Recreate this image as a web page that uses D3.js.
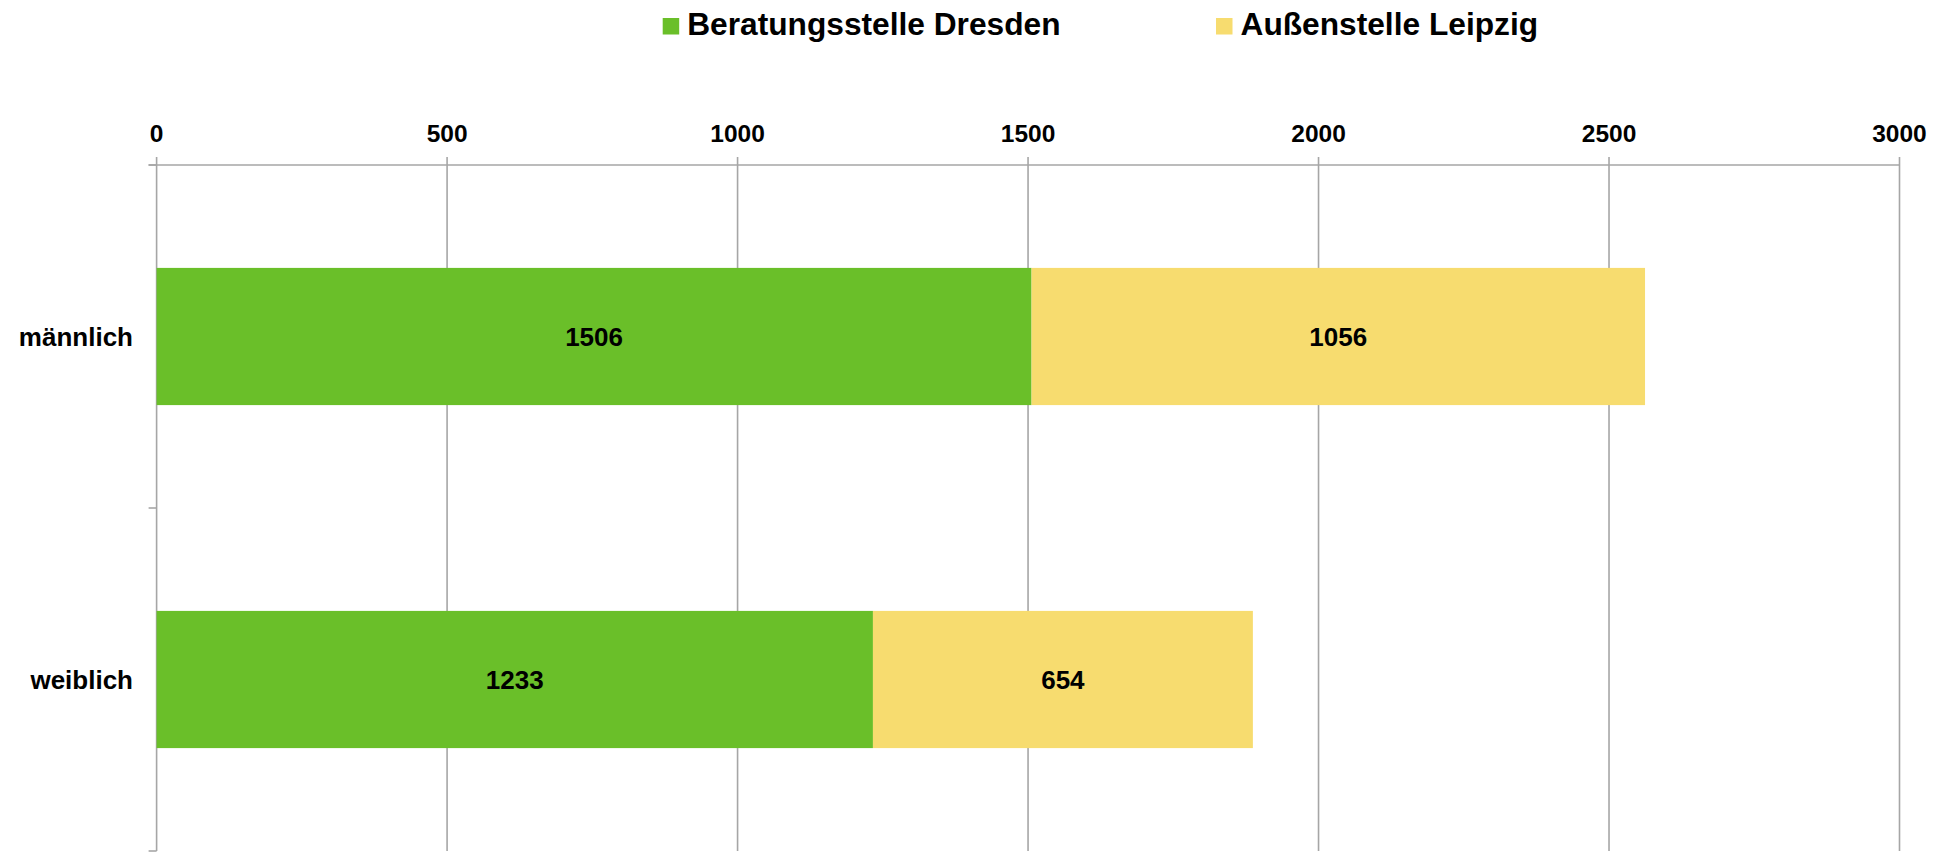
<!DOCTYPE html>
<html>
<head>
<meta charset="utf-8">
<script src="https://cdn.jsdelivr.net/npm/d3@7"></script>
<style>
  body { margin: 0; background: #fff; }
  text { font-family: "Liberation Sans", Arial, sans-serif; font-weight: bold; fill: #000; }
</style>
</head>
<body>
<div id="chart"></div>
<script>
const CATEGORIES = ["männlich", "weiblich"];
const SERIES = ["Beratungsstelle Dresden", "Außenstelle Leipzig"];
const DRESDEN = [1506, 1233];
const LEIPZIG = [1056, 654];
const X_TICKS = [0, 500, 1000, 1500, 2000, 2500, 3000];
const COLORS = ["#6abf29", "#f7dc6f"];

const FRAME_WIDTH = 1934;
const FRAME_HEIGHT = 858;
const MARGINS = {left: 156.6, right: 34.5, top: 165, bottom: 7};

const svg = d3.select("#chart")
  .append("svg")
    .attr("width", FRAME_WIDTH)
    .attr("height", FRAME_HEIGHT);

const x = d3.scaleLinear()
  .domain([0, 3000])
  .range([MARGINS.left, FRAME_WIDTH - MARGINS.right]);

const y = d3.scaleBand()
  .domain(CATEGORIES)
  .range([MARGINS.top, FRAME_HEIGHT - MARGINS.bottom])
  .padding(0);

const barH = y.bandwidth() * 0.4;
const gridColor = "#a6a6a6";

// vertical gridlines + top ticks
svg.append("g")
  .selectAll("line")
  .data(X_TICKS)
  .enter()
  .append("line")
    .attr("x1", d => x(d))
    .attr("x2", d => x(d))
    .attr("y1", MARGINS.top - 8)
    .attr("y2", FRAME_HEIGHT - MARGINS.bottom)
    .attr("stroke", gridColor)
    .attr("stroke-width", 1.6);

// top axis line
svg.append("line")
  .attr("x1", x(0) - 8)
  .attr("x2", x(3000))
  .attr("y1", MARGINS.top)
  .attr("y2", MARGINS.top)
  .attr("stroke", gridColor)
  .attr("stroke-width", 1.6);

// y axis ticks at band boundaries
const bounds = [MARGINS.top].concat(CATEGORIES.map(c => y(c) + y.bandwidth()));
svg.append("g")
  .selectAll("line")
  .data(bounds)
  .enter()
  .append("line")
    .attr("x1", x(0) - 8)
    .attr("x2", x(0))
    .attr("y1", d => d)
    .attr("y2", d => d)
    .attr("stroke", gridColor)
    .attr("stroke-width", 1.6);

// x tick labels
svg.append("g")
  .selectAll("text")
  .data(X_TICKS)
  .enter()
  .append("text")
    .attr("x", d => x(d))
    .attr("y", 142)
    .attr("text-anchor", "middle")
    .style("font-size", "24.5px")
    .text(d => d);

// category labels
svg.append("g")
  .selectAll("text")
  .data(CATEGORIES)
  .enter()
  .append("text")
    .attr("x", 133)
    .attr("y", d => y(d) + y.bandwidth() / 2)
    .attr("dy", "0.35em")
    .attr("text-anchor", "end")
    .style("font-size", "26px")
    .text(d => d);

// stacked bars
const rows = CATEGORIES.map((c, i) => ({cat: c, vals: [DRESDEN[i], LEIPZIG[i]]}));
const segs = [];
rows.forEach(r => {
  let start = 0;
  r.vals.forEach((v, s) => {
    segs.push({cat: r.cat, s: s, x0: start, x1: start + v, v: v});
    start += v;
  });
});

svg.append("g")
  .selectAll("rect")
  .data(segs)
  .enter()
  .append("rect")
    .attr("x", d => x(d.x0))
    .attr("width", d => x(d.x1) - x(d.x0))
    .attr("y", d => y(d.cat) + (y.bandwidth() - barH) / 2)
    .attr("height", barH)
    .attr("fill", d => COLORS[d.s]);

svg.append("g")
  .selectAll("text")
  .data(segs)
  .enter()
  .append("text")
    .attr("x", d => (x(d.x0) + x(d.x1)) / 2)
    .attr("y", d => y(d.cat) + y.bandwidth() / 2)
    .attr("dy", "0.35em")
    .attr("text-anchor", "middle")
    .style("font-size", "26px")
    .text(d => d.v);

// legend
const legendX = [662.7, 1216];
const legend = svg.append("g")
  .selectAll("g")
  .data(SERIES)
  .enter()
  .append("g")
    .attr("transform", (d, i) => `translate(${legendX[i]},0)`);

legend.append("rect")
  .attr("x", 0)
  .attr("y", 18)
  .attr("width", 16.5)
  .attr("height", 16.5)
  .attr("fill", (d, i) => COLORS[i]);

legend.append("text")
  .attr("x", 24.5)
  .attr("y", 35)
  .style("font-size", "31.7px")
  .text(d => d);
</script>
</body>
</html>
